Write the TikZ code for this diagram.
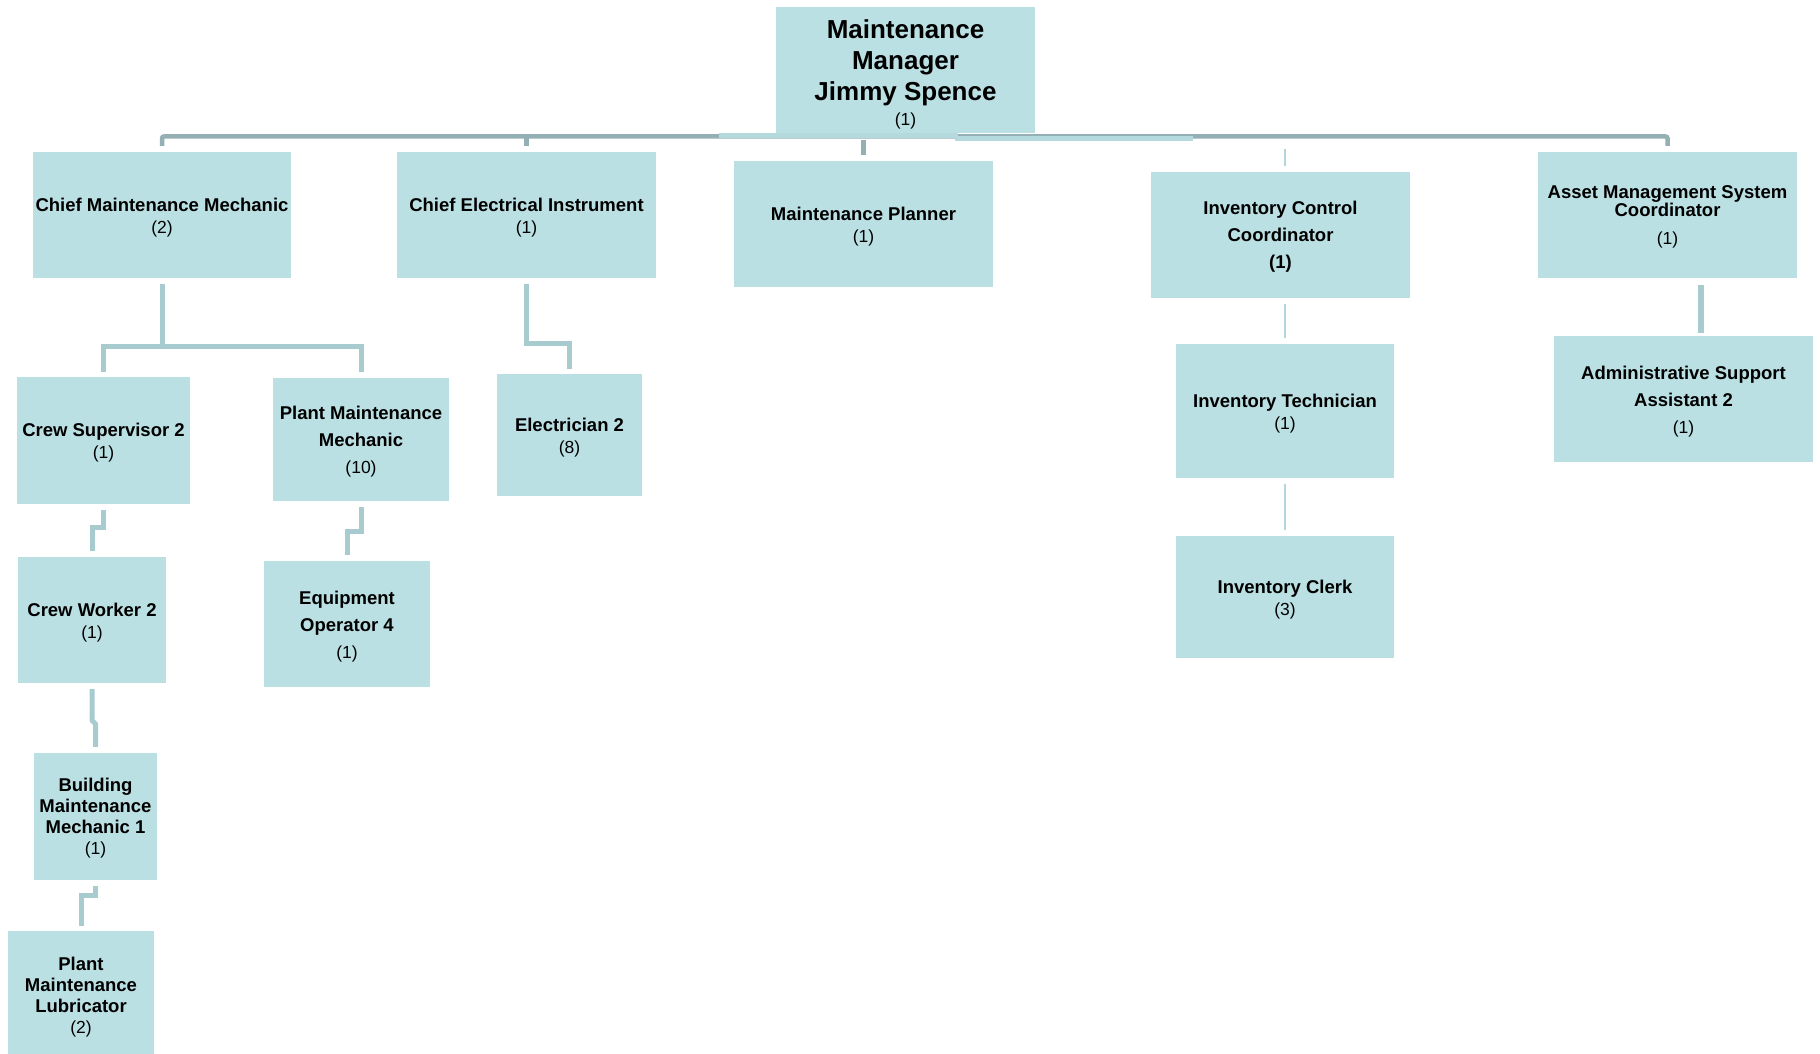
\documentclass[tikz,border=0pt]{standalone}
\usepackage{fontspec}
\setmainfont{Liberation Sans}
\usetikzlibrary{calc}
\definecolor{boxfill}{RGB}{187,224,227}
\definecolor{busdark}{RGB}{149,176,180}
\definecolor{buslight}{RGB}{181,218,222}
\definecolor{connc}{RGB}{168,203,207}
\definecolor{connthin}{RGB}{178,214,218}
\newcommand{\cnt}{\mdseries\fontsize{17.5}{21}\selectfont}
\begin{document}
\begin{tikzpicture}[x=1pt,y=-1pt,
  orgbox/.style={fill=boxfill, draw=none, inner sep=0pt},
  orgtext/.style={inner sep=0pt, align=center, text=black},
  tighttext/.style={orgtext, font=\bfseries\fontsize{18.5}{22}\selectfont},
  lubtext/.style={orgtext, font=\bfseries\fontsize{18.5}{21}\selectfont},
  widetext/.style={orgtext, font=\bfseries\fontsize{18.5}{27}\selectfont},
  amstext/.style={orgtext, font=\bfseries\fontsize{18.5}{18}\selectfont},
  toptext/.style={orgtext, font=\bfseries\fontsize{26}{31}\selectfont},
  bus/.style={draw=busdark, line width=4.5pt, rounded corners=2pt},
  busover/.style={draw=buslight, line width=5pt},
  conn/.style={draw=connc, line width=5pt, line join=miter},
  thinconn/.style={draw=connthin, line width=2pt},
  wideconn/.style={draw=connc, line width=6pt}
]
\useasboundingbox (0,0) rectangle (1820,1054);
\fill[white] (0,0) rectangle (1820,1054);

% top bus (drawn first, boxes on top)
\coordinate (busy) at (0,136.5);
\coordinate (l1a) at (719,136);
\coordinate (l1b) at (958,136);
\coordinate (l2a) at (955,138.5);
\coordinate (l2b) at (1193,138.5);

% boxes
\node[orgbox, minimum width=259, minimum height=126] (top) at (905.5,70) {};
\node[orgbox, minimum width=258, minimum height=126] (cmm) at (162,215) {};
\node[orgbox, minimum width=259, minimum height=126] (cei) at (526.5,215) {};
\node[orgbox, minimum width=259, minimum height=126] (mp) at (863.5,224) {};
\node[orgbox, minimum width=259, minimum height=126] (icc) at (1280.5,235) {};
\node[orgbox, minimum width=259, minimum height=126] (ams) at (1667.5,215) {};
\node[orgbox, minimum width=173, minimum height=127] (cs) at (103.5,440.5) {};
\node[orgbox, minimum width=176, minimum height=123] (pmm) at (361,439.5) {};
\node[orgbox, minimum width=145, minimum height=122] (e2) at (569.5,435) {};
\node[orgbox, minimum width=148, minimum height=126] (cw) at (92,620) {};
\node[orgbox, minimum width=166, minimum height=126] (eo) at (347,624) {};
\node[orgbox, minimum width=123, minimum height=127] (bmm) at (95.5,816.5) {};
\node[orgbox, minimum width=146, minimum height=126] (pml) at (81,994) {};
\node[orgbox, minimum width=218, minimum height=134] (it) at (1285,411) {};
\node[orgbox, minimum width=218, minimum height=122] (ic) at (1285,597) {};
\node[orgbox, minimum width=259, minimum height=126] (adm) at (1683.5,399) {};

% texts
\node[toptext] (topt) at ([yshift=-4.5pt]top.center) {Maintenance\\Manager\\Jimmy Spence\\[-6pt]{\cnt (1)}};
\node[tighttext] (cmmt) at ([yshift=-3pt]cmm.center) {Chief Maintenance Mechanic\\{\cnt (2)}};
\node[tighttext] (ceit) at ([yshift=-3pt]cei.center) {Chief Electrical Instrument\\{\cnt (1)}};
\node[tighttext] (mpt) at ([yshift=-2.5pt]mp.center) {Maintenance Planner\\{\cnt (1)}};
\node[widetext] (icct) at ([yshift=-1.5pt]icc.center) {Inventory Control\\Coordinator\\(1)};
\node[amstext] (amst) at ([yshift=-2pt]ams.center) {Asset Management System\\Coordinator\\[10pt]{\cnt (1)}};
\node[tighttext] (cst) at ([yshift=-2.5pt]cs.center) {Crew Supervisor 2\\{\cnt (1)}};
\node[widetext] (pmmt) at ([yshift=-2pt]pmm.center) {Plant Maintenance\\Mechanic\\{\cnt (10)}};
\node[tighttext] (e2t) at ([yshift=-3pt]e2.center) {Electrician 2\\{\cnt (8)}};
\node[tighttext] (cwt) at ([yshift=-3pt]cw.center) {Crew Worker 2\\{\cnt (1)}};
\node[widetext] (eot) at ([yshift=-2.5pt]eo.center) {Equipment\\Operator 4\\{\cnt (1)}};
\node[lubtext] (bmmt) at ([yshift=-1.5pt]bmm.center) {Building\\Maintenance\\Mechanic 1\\{\cnt (1)}};
\node[lubtext] (pmlt) at ([yshift=-3pt]pml.center) {Plant\\Maintenance\\Lubricator\\{\cnt (2)}};
\node[tighttext] (itt) at ([yshift=-3pt]it.center) {Inventory Technician\\{\cnt (1)}};
\node[tighttext] (ict) at ([yshift=-3pt]ic.center) {Inventory Clerk\\{\cnt (3)}};
\node[widetext] (admt) at ([yshift=-2.5pt]adm.center) {Administrative Support\\Assistant 2\\{\cnt (1)}};

% top bus
\draw[bus] ([yshift=6pt]cmm.north) -- (cmm.north |- busy) -- (ams.north |- busy) -- ([yshift=6pt]ams.north);
\draw[bus, rounded corners=0pt] ([yshift=6pt]cei.north) -- (cei.north |- busy);
\draw[busover] (l1a) -- (l1b);
\draw[busover] (l2a) -- (l2b);
\draw[bus, rounded corners=0pt] ([yshift=6pt]mp.north) -- ([yshift=21pt]mp.north);
\coordinate (icctick) at (it.north |- icc.north);
\draw[thinconn] ([yshift=6pt]icctick) -- ([yshift=23pt]icctick);

% lower connectors
\draw[conn, shorten <=6pt, shorten >=5pt] (cmm.south) -- ++(0,68) -| (cs.north);
\draw[conn, shorten >=6pt] ([yshift=-68pt]cmm.south) -| (pmm.north);
\draw[conn, shorten <=6pt, shorten >=5pt] (cei.south) -- ++(0,65) -| (e2.north);
\draw[conn, shorten <=6pt, shorten >=6pt] (cs.south) -- ++(0,23) -| (cw.north);
\draw[conn, shorten <=6pt, shorten >=6pt] (pmm.south) -- ++(0,30) -| (eo.north);
\draw[conn, shorten <=6pt, shorten >=6pt] (cw.south) -- ++(0,37) -- (bmm.north |- 0,724) -- (bmm.north);
\draw[conn, shorten <=6pt, shorten >=5pt] (bmm.south) -- ++(0,15) -| (pml.north);
\draw[thinconn, shorten <=6pt, shorten >=6pt] (it.north |- icc.south) -- (it.north);
\draw[thinconn, shorten <=6pt, shorten >=6pt] (it.south) -- (ic.north);
\coordinate (admc) at ([xshift=17.5pt]adm.north);
\draw[wideconn, shorten <=7pt, shorten >=3pt] (admc |- ams.south) -- (admc);
\end{tikzpicture}
\end{document}
